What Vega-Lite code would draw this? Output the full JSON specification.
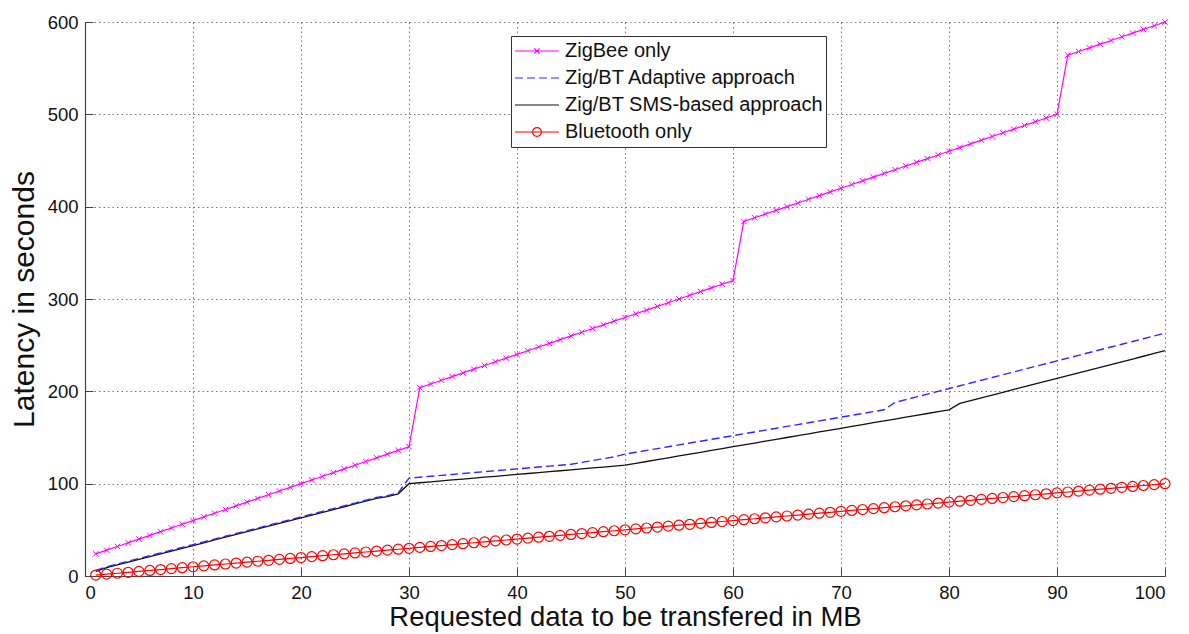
{
  "$schema": "https://vega.github.io/schema/vega-lite/v6.json",
  "width": 1080,
  "height": 554,
  "autosize": {"type": "none"},
  "padding": {"left": 85, "top": 22, "right": 24, "bottom": 58},
  "background": "white",
  "config": {
    "font": "Liberation Sans",
    "view": {"stroke": null},
    "axis": {
      "domainColor": "#444",
      "domainWidth": 1.2,
      "tickColor": "#444",
      "tickSize": -8,
      "labelPadding": 15,
      "labelFontSize": 18.5,
      "labelColor": "#111",
      "titleFontSize": 27.5,
      "titleFontWeight": "normal",
      "titleColor": "#111",
      "grid": true,
      "gridDash": [1.5, 3],
      "gridColor": "#777",
      "gridWidth": 1
    }
  },
  "data": {
    "values": [
      {"x":1,"zb":24,"ad":6,"sms":5,"bt":1},
      {"x":2,"zb":28,"ad":10,"sms":9,"bt":2},
      {"x":3,"zb":32,"ad":13,"sms":12,"bt":3},
      {"x":4,"zb":36,"ad":16,"sms":15,"bt":4},
      {"x":5,"zb":40,"ad":19,"sms":18,"bt":5},
      {"x":6,"zb":44,"ad":22,"sms":21,"bt":6},
      {"x":7,"zb":48,"ad":25,"sms":24,"bt":7},
      {"x":8,"zb":52,"ad":28,"sms":27,"bt":8},
      {"x":9,"zb":56,"ad":31,"sms":30,"bt":9},
      {"x":10,"zb":60,"ad":34,"sms":33,"bt":10},
      {"x":11,"zb":64,"ad":37,"sms":36,"bt":11},
      {"x":12,"zb":68,"ad":40,"sms":39,"bt":12},
      {"x":13,"zb":72,"ad":43,"sms":42,"bt":13},
      {"x":14,"zb":76,"ad":46,"sms":45,"bt":14},
      {"x":15,"zb":80,"ad":49,"sms":48,"bt":15},
      {"x":16,"zb":84,"ad":52,"sms":51,"bt":16},
      {"x":17,"zb":88,"ad":55,"sms":54,"bt":17},
      {"x":18,"zb":92,"ad":58,"sms":57,"bt":18},
      {"x":19,"zb":96,"ad":61,"sms":60,"bt":19},
      {"x":20,"zb":100,"ad":64,"sms":63,"bt":20},
      {"x":21,"zb":104,"ad":67,"sms":66,"bt":21},
      {"x":22,"zb":108,"ad":70,"sms":69,"bt":22},
      {"x":23,"zb":112,"ad":73,"sms":72,"bt":23},
      {"x":24,"zb":116,"ad":76,"sms":75,"bt":24},
      {"x":25,"zb":120,"ad":79,"sms":78,"bt":25},
      {"x":26,"zb":124,"ad":82,"sms":81,"bt":26},
      {"x":27,"zb":128,"ad":85,"sms":84,"bt":27},
      {"x":28,"zb":132,"ad":87,"sms":86,"bt":28},
      {"x":29,"zb":136,"ad":90,"sms":89,"bt":29},
      {"x":30,"zb":140,"ad":106,"sms":100,"bt":30},
      {"x":31,"zb":204,"ad":107,"sms":101,"bt":31},
      {"x":32,"zb":208,"ad":108,"sms":102,"bt":32},
      {"x":33,"zb":212,"ad":109,"sms":103,"bt":33},
      {"x":34,"zb":216,"ad":110,"sms":104,"bt":34},
      {"x":35,"zb":220,"ad":111,"sms":105,"bt":35},
      {"x":36,"zb":224,"ad":112,"sms":106,"bt":36},
      {"x":37,"zb":228,"ad":113,"sms":107,"bt":37},
      {"x":38,"zb":232,"ad":114,"sms":108,"bt":38},
      {"x":39,"zb":236,"ad":115,"sms":109,"bt":39},
      {"x":40,"zb":240,"ad":116,"sms":110,"bt":40},
      {"x":41,"zb":244,"ad":117,"sms":111,"bt":41},
      {"x":42,"zb":248,"ad":118,"sms":112,"bt":42},
      {"x":43,"zb":252,"ad":119,"sms":113,"bt":43},
      {"x":44,"zb":256,"ad":120,"sms":114,"bt":44},
      {"x":45,"zb":260,"ad":121,"sms":115,"bt":45},
      {"x":46,"zb":264,"ad":123,"sms":116,"bt":46},
      {"x":47,"zb":268,"ad":125,"sms":117,"bt":47},
      {"x":48,"zb":272,"ad":127,"sms":118,"bt":48},
      {"x":49,"zb":276,"ad":129,"sms":119,"bt":49},
      {"x":50,"zb":280,"ad":132,"sms":120,"bt":50},
      {"x":51,"zb":284,"ad":134,"sms":122,"bt":51},
      {"x":52,"zb":288,"ad":136,"sms":124,"bt":52},
      {"x":53,"zb":292,"ad":138,"sms":126,"bt":53},
      {"x":54,"zb":296,"ad":140,"sms":128,"bt":54},
      {"x":55,"zb":300,"ad":142,"sms":130,"bt":55},
      {"x":56,"zb":304,"ad":144,"sms":132,"bt":56},
      {"x":57,"zb":308,"ad":146,"sms":134,"bt":57},
      {"x":58,"zb":312,"ad":148,"sms":136,"bt":58},
      {"x":59,"zb":316,"ad":150,"sms":138,"bt":59},
      {"x":60,"zb":320,"ad":152,"sms":140,"bt":60},
      {"x":61,"zb":384,"ad":154,"sms":142,"bt":61},
      {"x":62,"zb":388,"ad":156,"sms":144,"bt":62},
      {"x":63,"zb":392,"ad":158,"sms":146,"bt":63},
      {"x":64,"zb":396,"ad":160,"sms":148,"bt":64},
      {"x":65,"zb":400,"ad":162,"sms":150,"bt":65},
      {"x":66,"zb":404,"ad":164,"sms":152,"bt":66},
      {"x":67,"zb":408,"ad":166,"sms":154,"bt":67},
      {"x":68,"zb":412,"ad":168,"sms":156,"bt":68},
      {"x":69,"zb":416,"ad":170,"sms":158,"bt":69},
      {"x":70,"zb":420,"ad":172,"sms":160,"bt":70},
      {"x":71,"zb":424,"ad":174,"sms":162,"bt":71},
      {"x":72,"zb":428,"ad":176,"sms":164,"bt":72},
      {"x":73,"zb":432,"ad":178,"sms":166,"bt":73},
      {"x":74,"zb":436,"ad":180,"sms":168,"bt":74},
      {"x":75,"zb":440,"ad":188,"sms":170,"bt":75},
      {"x":76,"zb":444,"ad":191,"sms":172,"bt":76},
      {"x":77,"zb":448,"ad":194,"sms":174,"bt":77},
      {"x":78,"zb":452,"ad":197,"sms":176,"bt":78},
      {"x":79,"zb":456,"ad":200,"sms":178,"bt":79},
      {"x":80,"zb":460,"ad":203,"sms":180,"bt":80},
      {"x":81,"zb":464,"ad":206,"sms":187,"bt":81},
      {"x":82,"zb":468,"ad":209,"sms":190,"bt":82},
      {"x":83,"zb":472,"ad":212,"sms":193,"bt":83},
      {"x":84,"zb":476,"ad":215,"sms":196,"bt":84},
      {"x":85,"zb":480,"ad":218,"sms":199,"bt":85},
      {"x":86,"zb":484,"ad":221,"sms":202,"bt":86},
      {"x":87,"zb":488,"ad":224,"sms":205,"bt":87},
      {"x":88,"zb":492,"ad":227,"sms":208,"bt":88},
      {"x":89,"zb":496,"ad":230,"sms":211,"bt":89},
      {"x":90,"zb":500,"ad":233,"sms":214,"bt":90},
      {"x":91,"zb":564,"ad":236,"sms":217,"bt":91},
      {"x":92,"zb":568,"ad":239,"sms":220,"bt":92},
      {"x":93,"zb":572,"ad":242,"sms":223,"bt":93},
      {"x":94,"zb":576,"ad":245,"sms":226,"bt":94},
      {"x":95,"zb":580,"ad":248,"sms":229,"bt":95},
      {"x":96,"zb":584,"ad":251,"sms":232,"bt":96},
      {"x":97,"zb":588,"ad":254,"sms":235,"bt":97},
      {"x":98,"zb":592,"ad":257,"sms":238,"bt":98},
      {"x":99,"zb":596,"ad":260,"sms":241,"bt":99},
      {"x":100,"zb":600,"ad":263,"sms":244,"bt":100}
    ]
  },
  "transform": [{"fold": ["zb", "ad", "sms", "bt"], "as": ["series", "y"]}],
  "encoding": {
    "x": {
      "field": "x", "type": "quantitative",
      "scale": {"domain": [0, 100], "nice": false},
      "axis": {"values": [0,10,20,30,40,50,60,70,80,90,100], "title": "Requested data to be transfered in MB", "titlePadding": 2}
    },
    "y": {
      "field": "y", "type": "quantitative",
      "scale": {"domain": [0, 600], "nice": false},
      "axis": {"values": [0,100,200,300,400,500,600], "title": "Latency in seconds", "titleFontSize": 30, "titlePadding": 8}
    },
    "color": {
      "field": "series", "type": "nominal",
      "scale": {"domain": ["zb", "ad", "sms", "bt"], "range": ["#ff00ff", "#2a2aff", "#111111", "#ff0000"]},
      "legend": {
        "orient": "none",
        "legendX": 426,
        "legendY": 14,
        "title": null,
        "labelExpr": "datum.value === 'zb' ? 'ZigBee only' : datum.value === 'ad' ? 'Zig/BT Adaptive approach' : datum.value === 'sms' ? 'Zig/BT SMS-based approach' : 'Bluetooth only'",
        "labelFontSize": 20,
        "labelLimit": 400,
        "labelColor": "#111",
        "labelOffset": 5,
        "symbolSize": 1936,
        "symbolStrokeWidth": 1,
        "clipHeight": 24,
        "rowPadding": 3,
        "padding": 3,
        "strokeColor": "#333",
        "fillColor": "white",
        "encode": {
          "symbols": {
            "update": {
              "shape": {"signal": "datum.value === 'zb' ? 'M-1,0L1,0M-0.12,-0.12L0.12,0.12M-0.12,0.12L0.12,-0.12' : datum.value === 'bt' ? 'M-1,0L1,0M0.2,0C0.2,0.1105 0.1105,0.2 0,0.2C-0.1105,0.2 -0.2,0.1105 -0.2,0C-0.2,-0.1105 -0.1105,-0.2 0,-0.2C0.1105,-0.2 0.2,-0.1105 0.2,0Z' : 'M-1,0L1,0'"},
              "strokeDash": {"signal": "datum.value === 'ad' ? [8, 4] : []"},
              "fill": {"value": "transparent"},
              "strokeWidth": {"value": 1.2},
              "opacity": {"value": 1}
            }
          }
        }
      }
    }
  },
  "layer": [
    {"transform": [{"filter": "datum.series === 'zb'"}], "mark": {"type": "line", "strokeWidth": 1.2}},
    {"transform": [{"filter": "datum.series === 'zb'"}], "mark": {"type": "point", "shape": "M-1,-1L1,1M-1,1L1,-1", "size": 30, "filled": false, "strokeWidth": 1, "opacity": 1}},
    {"transform": [{"filter": "datum.series === 'sms'"}], "mark": {"type": "line", "strokeWidth": 1.3}},
    {"transform": [{"filter": "datum.series === 'ad'"}], "mark": {"type": "line", "strokeWidth": 1.4, "strokeDash": [8, 4]}},
    {"transform": [{"filter": "datum.series === 'bt'"}], "mark": {"type": "line", "strokeWidth": 1.2}},
    {"transform": [{"filter": "datum.series === 'bt'"}], "mark": {"type": "point", "shape": "circle", "size": 100, "filled": false, "strokeWidth": 1.2, "opacity": 1}}
  ]
}
